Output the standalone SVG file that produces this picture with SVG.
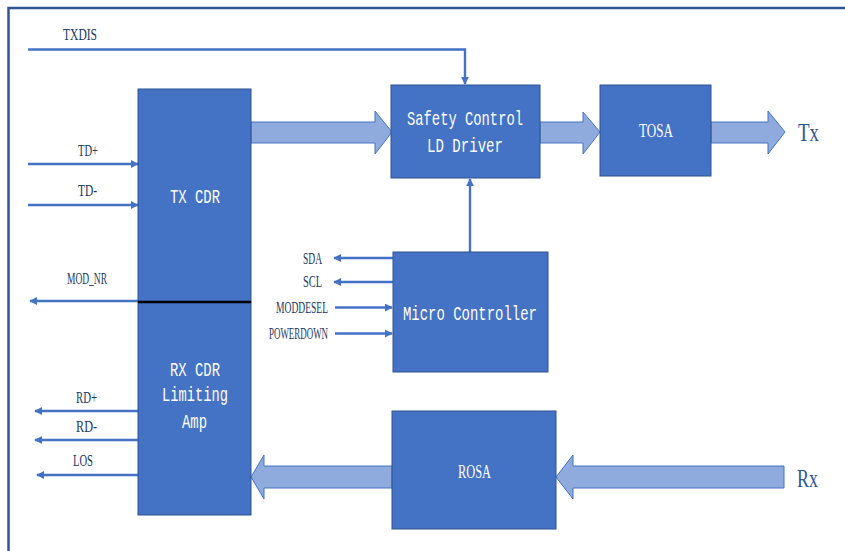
<svg xmlns="http://www.w3.org/2000/svg" width="845" height="551" viewBox="0 0 845 551">
<style>
.box{fill:#4472C4;stroke:#2F528F;stroke-width:1}
.blk{fill:#8FAADC;stroke:#4472C4;stroke-width:1}
.ln{fill:none;stroke:#4472C4;stroke-width:2.4}
.lbl{font-family:"Liberation Serif",serif;font-size:16px;fill:#203864}
.big{font-family:"Liberation Serif",serif;font-size:26px;fill:#2F5597}
.bt{font-family:"Liberation Mono",monospace;font-size:21px;fill:#FFFFFF}
.bs{font-family:"Liberation Serif",serif;font-size:19px;fill:#FFFFFF}
</style>
<defs>
<marker id="ah" viewBox="0 0 10 10" refX="9" refY="5" markerWidth="8" markerHeight="8" markerUnits="userSpaceOnUse" orient="auto">
<path d="M0,0 L10,5 L0,10 Z" fill="#4472C4"/>
</marker>
</defs>
<rect width="845" height="551" fill="#FFFFFF"/>
<path d="M8.5,551 V8 H845" fill="none" stroke="#2F5597" stroke-width="2.5"/>

<g id="connectors">
<path class="blk" d="M251,122 H375 V111 L392,132 L375,154 V143 H251 Z"/>
<path class="blk" d="M540,122 H583 V112 L600,132 L583,154 V143 H540 Z"/>
<path class="blk" d="M711,122 H768 V111 L785,132 L768,154 V143 H711 Z"/>
<path class="blk" d="M784,466 H573 V455 L556,477 L573,499 V488 H784 Z"/>
<path class="blk" d="M392,466 H264 V455 L251,477 L264,499 V488 H392 Z"/>
<path class="ln" d="M28,49.5 H465 V84" marker-end="url(#ah)"/>
<path class="ln" d="M28,164 H138" marker-end="url(#ah)"/>
<path class="ln" d="M28,205 H138" marker-end="url(#ah)"/>
<path class="ln" d="M138,301 H30" marker-end="url(#ah)"/>
<path class="ln" d="M393,258 H334" marker-end="url(#ah)"/>
<path class="ln" d="M393,282 H334" marker-end="url(#ah)"/>
<path class="ln" d="M335,307.5 H392" marker-end="url(#ah)"/>
<path class="ln" d="M335,333.5 H392" marker-end="url(#ah)"/>
<path class="ln" d="M138,411 H35" marker-end="url(#ah)"/>
<path class="ln" d="M138,440 H35" marker-end="url(#ah)"/>
<path class="ln" d="M138,475 H37" marker-end="url(#ah)"/>
<path class="ln" d="M470,252 V179" marker-end="url(#ah)"/>
</g>

<g id="labels">
<text class="lbl" x="63" y="40" textLength="34" lengthAdjust="spacingAndGlyphs">TXDIS</text>
<text class="lbl" x="78" y="156" textLength="20" lengthAdjust="spacingAndGlyphs">TD+</text>
<text class="lbl" x="78" y="196" textLength="19" lengthAdjust="spacingAndGlyphs">TD-</text>
<text class="lbl" x="67" y="284" textLength="40" lengthAdjust="spacingAndGlyphs">MOD_NR</text>
<text class="lbl" x="303" y="264" textLength="19" lengthAdjust="spacingAndGlyphs">SDA</text>
<text class="lbl" x="303" y="287" textLength="19" lengthAdjust="spacingAndGlyphs">SCL</text>
<text class="lbl" x="276" y="313" textLength="52" lengthAdjust="spacingAndGlyphs">MODDESEL</text>
<text class="lbl" x="269" y="339" textLength="59" lengthAdjust="spacingAndGlyphs">POWERDOWN</text>
<text class="lbl" x="76" y="403" textLength="21" lengthAdjust="spacingAndGlyphs">RD+</text>
<text class="lbl" x="76" y="432" textLength="21" lengthAdjust="spacingAndGlyphs">RD-</text>
<text class="lbl" x="73" y="466" textLength="20" lengthAdjust="spacingAndGlyphs">LOS</text>
<text class="big" x="798" y="141" textLength="21" lengthAdjust="spacingAndGlyphs">Tx</text>
<text class="big" x="797" y="487" textLength="21" lengthAdjust="spacingAndGlyphs">Rx</text>
</g>

<g id="tx-cdr">
<rect class="box" x="138" y="89" width="113" height="213"/>
<text class="bt" x="170" y="203" textLength="50" lengthAdjust="spacingAndGlyphs">TX CDR</text>
</g>
<g id="rx-cdr">
<rect class="box" x="138" y="302" width="113" height="213"/>
<text class="bt" x="170" y="376" textLength="50" lengthAdjust="spacingAndGlyphs">RX CDR</text>
<text class="bt" x="162" y="401" textLength="66" lengthAdjust="spacingAndGlyphs">Limiting</text>
<text class="bt" x="182" y="428" textLength="25" lengthAdjust="spacingAndGlyphs">Amp</text>
</g>
<line x1="138" y1="302" x2="251" y2="302" stroke="#000000" stroke-width="2.5"/>
<g id="safety-control">
<rect class="box" x="391" y="85" width="149" height="93"/>
<text class="bt" x="407" y="125" textLength="116" lengthAdjust="spacingAndGlyphs">Safety Control</text>
<text class="bt" x="427" y="152" textLength="76" lengthAdjust="spacingAndGlyphs">LD Driver</text>
</g>
<g id="tosa">
<rect class="box" x="600" y="85" width="111" height="91"/>
<text class="bs" x="639" y="137" textLength="34" lengthAdjust="spacingAndGlyphs">TOSA</text>
</g>
<g id="micro-controller">
<rect class="box" x="393" y="252" width="155" height="120"/>
<text class="bt" x="403" y="320" textLength="134" lengthAdjust="spacingAndGlyphs">Micro Controller</text>
</g>
<g id="rosa">
<rect class="box" x="392" y="411" width="164" height="118"/>
<text class="bs" x="458" y="478" textLength="33" lengthAdjust="spacingAndGlyphs">ROSA</text>
</g>
</svg>
